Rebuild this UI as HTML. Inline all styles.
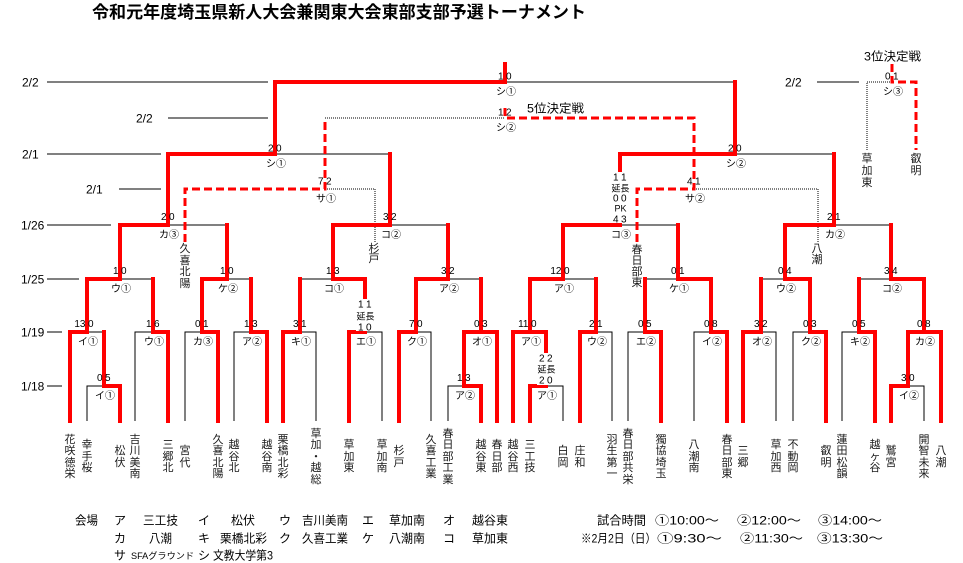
<!DOCTYPE html>
<html>
<head>
<meta charset="utf-8">
<style>
  html,body{margin:0;padding:0;background:#fff;}
  body{width:963px;height:563px;position:relative;overflow:hidden;
       font-family:"Liberation Sans","Noto Sans CJK JP",sans-serif;color:#111;}
  svg{position:absolute;left:0;top:0;}
  .v{position:absolute;width:14px;text-align:center;font-size:11px;line-height:11.5px;
     font-family:"Liberation Sans","Noto Sans CJK JP",sans-serif;color:#1a1a1a;}
</style>
</head>
<body>
<svg width="963" height="563" viewBox="0 0 963 563" xmlns="http://www.w3.org/2000/svg">
  <rect width="963" height="563" fill="#fff"/>
  <!-- black solid lines -->
  <g stroke="#000" stroke-width="1" fill="none" shape-rendering="crispEdges">
    <path d="M47,82H268 M168,118H268 M47,154H161 M119,189H161 M47,225H111 M47,279H79 M47,332H62 M47,386H62 M817,82H859"/>
    <path d="M505,82H735 M275,154H390 M735,154H834"/>
    <path d="M168,225H227 M390,225H448 M620,225H678 M834,225H891"/>
    <path d="M120,279H153 M227,279H251 M300,279H333 M448,279H481 M563,279H596 M645,279H678 M761,279H785 M859,279H891"/>
    <path d="M87,332H104 M135,421V332H153 M185,421V332H202 M234,421V332H251 M300,332H316V421 M365,332H382V421 M416,332H431V421 M596,332H612V421 M628,421V332H645 M694,421V332H711 M761,332H776V421 M793,421V332H810 M842,421V332H859"/>
    <path d="M87,421V386H104 M448,421V386H464 M546,386H563V421 M908,386H924V421"/>
  </g>
  <!-- black dotted -->
  <g stroke="#000" stroke-width="1" fill="none" stroke-dasharray="1 1" shape-rendering="crispEdges">
    <path d="M325,118H505 M325,189H375V242 M694,189H818V242 M867,150V82H892"/>
  </g>
  <!-- red solid -->
  <g stroke="#f00" stroke-width="4" fill="none" stroke-linejoin="miter" stroke-linecap="square">
    <path d="M505,64V82 M275,154V82H505 M735,82V154"/>
    <path d="M168,225V154H275 M390,154V225 M620,225V154H735 M834,154V225"/>
    <path d="M120,279V225H168 M227,225V279 M333,279V225H390 M448,225V279 M563,279V225H620 M678,225V279 M785,279V225H834 M891,225V279"/>
    <path d="M87,332V279H120 M153,279V332 M202,332V279H227 M251,279V332 M300,279V332 M333,279H365V332 M416,332V279H448 M481,279V332 M530,332V279H563 M596,279V332 M645,279V332 M678,279H711V332 M761,279V332 M785,279H810V332 M859,279V332 M891,279H924V332"/>
    <path d="M70,421V332H87 M104,332V386 M153,332H168V421 M202,332H218V421 M251,332H267V421 M283,421V332H300 M349,421V332H365 M399,421V332H416 M464,386V332H497V421 M513,421V332H546V386 M580,421V332H596 M645,332H661V421 M711,332H727V421 M743,421V332H761 M810,332H826V421 M859,332H875V421 M908,386V332H941V421"/>
    <path d="M104,386H120V421 M464,386H481V421 M530,421V386H546 M891,421V386H908"/>
  </g>
  <!-- red dashed -->
  <g stroke="#f00" stroke-width="3" fill="none" stroke-dasharray="8 4">
    <path d="M185,242V189H325V118"/>
    <path d="M637,242V189H694V118H505V108"/>
    <path d="M892,64V82H916V150"/>
  </g>

  <!-- white backgrounds for stacked scores -->
  <rect x="611" y="172" width="19" height="51" fill="#fff"/>
  <rect x="356" y="299" width="19" height="32" fill="#fff"/>
  <rect x="537" y="353" width="19" height="32" fill="#fff"/>

  <g font-family="'Liberation Sans','Noto Sans CJK JP',sans-serif" fill="#000">
    <!-- title -->
    <text x="92" y="18" font-size="17" font-weight="bold" textLength="494" lengthAdjust="spacingAndGlyphs">令和元年度埼玉県新人大会兼関東大会東部支部予選トーナメント</text>
    <text x="527" y="112.5" font-size="12" textLength="57" lengthAdjust="spacingAndGlyphs">5位決定戦</text>
    <text x="864" y="60.5" font-size="12" textLength="57" lengthAdjust="spacingAndGlyphs">3位決定戦</text>

    <!-- date labels -->
    <g font-size="12">
      <text x="22" y="86.5">2/2</text>
      <text x="136" y="122.5">2/2</text>
      <text x="22" y="158.5">2/1</text>
      <text x="86" y="193.5">2/1</text>
      <text x="21" y="229.5">1/26</text>
      <text x="21" y="283.5">1/25</text>
      <text x="21" y="336.5">1/19</text>
      <text x="21" y="390.5">1/18</text>
      <text x="785" y="86.5">2/2</text>
    </g>

    <!-- scores: left digits -->
    <g font-size="10" text-anchor="end">
      <text x="503.5" y="79.5">1</text>
      <text x="890.5" y="79.5">0</text>
      <text x="503.5" y="115.5">1</text>
      <text x="273.5" y="151.5">2</text>
      <text x="733.5" y="151.5">2</text>
      <text x="323.5" y="184.5">7</text>
      <text x="692.5" y="184.5">4</text>
      <text x="166.5" y="220">2</text>
      <text x="388.5" y="220">3</text>
      <text x="618.5" y="222.5">4</text>
      <text x="618.5" y="180.5">1</text>
      <text x="618.5" y="201.5">0</text>
      <text x="832.5" y="220">2</text>
      <text x="118.5" y="274">1</text>
      <text x="225.5" y="274">1</text>
      <text x="331.5" y="274">1</text>
      <text x="446.5" y="274">3</text>
      <text x="561.5" y="274">12</text>
      <text x="676.5" y="274">0</text>
      <text x="783.5" y="274">0</text>
      <text x="889.5" y="274">3</text>
      <text x="85.5" y="327">13</text>
      <text x="151.5" y="327">1</text>
      <text x="200.5" y="327">0</text>
      <text x="249.5" y="327">1</text>
      <text x="298.5" y="327">3</text>
      <text x="363.5" y="330.5">1</text>
      <text x="363.5" y="307.5">1</text>
      <text x="414.5" y="327">7</text>
      <text x="479.5" y="327">0</text>
      <text x="528.5" y="327">11</text>
      <text x="594.5" y="327">2</text>
      <text x="643.5" y="327">0</text>
      <text x="709.5" y="327">0</text>
      <text x="759.5" y="327">3</text>
      <text x="808.5" y="327">0</text>
      <text x="857.5" y="327">0</text>
      <text x="922.5" y="327">0</text>
      <text x="102.5" y="381">0</text>
      <text x="462.5" y="381">1</text>
      <text x="544.5" y="383.5">2</text>
      <text x="544.5" y="361.5">2</text>
      <text x="906.5" y="381">3</text>
    </g>
    <!-- scores: right digits -->
    <g font-size="10">
      <text x="506" y="79.5">0</text>
      <text x="893" y="79.5">1</text>
      <text x="506" y="115.5">2</text>
      <text x="276" y="151.5">0</text>
      <text x="736" y="151.5">0</text>
      <text x="326" y="184.5">2</text>
      <text x="695" y="184.5">1</text>
      <text x="169" y="220">0</text>
      <text x="391" y="220">2</text>
      <text x="621" y="222.5">3</text>
      <text x="621" y="180.5">1</text>
      <text x="621" y="201.5">0</text>
      <text x="835" y="220">1</text>
      <text x="121" y="274">0</text>
      <text x="228" y="274">0</text>
      <text x="334" y="274">3</text>
      <text x="449" y="274">2</text>
      <text x="564" y="274">0</text>
      <text x="679" y="274">1</text>
      <text x="786" y="274">4</text>
      <text x="892" y="274">4</text>
      <text x="88" y="327">0</text>
      <text x="154" y="327">6</text>
      <text x="203" y="327">1</text>
      <text x="252" y="327">3</text>
      <text x="301" y="327">1</text>
      <text x="366" y="330.5">0</text>
      <text x="366" y="307.5">1</text>
      <text x="417" y="327">0</text>
      <text x="482" y="327">3</text>
      <text x="531" y="327">0</text>
      <text x="597" y="327">1</text>
      <text x="646" y="327">5</text>
      <text x="712" y="327">8</text>
      <text x="762" y="327">2</text>
      <text x="811" y="327">3</text>
      <text x="860" y="327">5</text>
      <text x="925" y="327">8</text>
      <text x="105" y="381">5</text>
      <text x="465" y="381">3</text>
      <text x="547" y="383.5">0</text>
      <text x="547" y="361.5">2</text>
      <text x="909" y="381">0</text>
    </g>
    <!-- stack words -->
    <g font-size="9" text-anchor="middle">
      <text x="620.5" y="191.5">延長</text>
      <text x="620.5" y="211.5">PK</text>
      <text x="365.5" y="319.5">延長</text>
      <text x="546.5" y="372.5">延長</text>
    </g>

    <!-- winner labels -->
    <g font-size="10" text-anchor="middle">
      <text x="506" y="94.8">シ①</text>
      <text x="893" y="94.8">シ③</text>
      <text x="506" y="130.8">シ②</text>
      <text x="276" y="166.8">シ①</text>
      <text x="736" y="166.8">シ②</text>
      <text x="326" y="201.8">サ①</text>
      <text x="695" y="201.8">サ②</text>
      <text x="169" y="237.8">カ③</text>
      <text x="391" y="237.8">コ②</text>
      <text x="621" y="237.8">コ③</text>
      <text x="835" y="237.8">カ②</text>
      <text x="121" y="291.8">ウ①</text>
      <text x="228" y="291.8">ケ②</text>
      <text x="334" y="291.8">コ①</text>
      <text x="449" y="291.8">ア②</text>
      <text x="564" y="291.8">ア①</text>
      <text x="679" y="291.8">ケ①</text>
      <text x="786" y="291.8">ウ②</text>
      <text x="892" y="291.8">コ②</text>
      <text x="88" y="344.8">イ①</text>
      <text x="154" y="344.8">ウ①</text>
      <text x="203" y="344.8">カ③</text>
      <text x="252" y="344.8">ア②</text>
      <text x="301" y="344.8">キ①</text>
      <text x="366" y="344.8">エ①</text>
      <text x="417" y="344.8">ク①</text>
      <text x="482" y="344.8">オ①</text>
      <text x="531" y="344.8">ア①</text>
      <text x="597" y="344.8">ウ②</text>
      <text x="646" y="344.8">エ②</text>
      <text x="712" y="344.8">イ②</text>
      <text x="762" y="344.8">オ②</text>
      <text x="811" y="344.8">ク②</text>
      <text x="860" y="344.8">キ②</text>
      <text x="925" y="344.8">カ②</text>
      <text x="105" y="398.8">イ①</text>
      <text x="465" y="398.8">ア②</text>
      <text x="547" y="398.8">ア①</text>
      <text x="909" y="398.8">イ②</text>
    </g>

    <!-- legend -->
    <g font-size="12">
      <text x="75" y="524.5" textLength="23" lengthAdjust="spacingAndGlyphs">会場</text>
      <text x="114" y="524.5">ア</text>
      <text x="143" y="524.5" textLength="35" lengthAdjust="spacingAndGlyphs">三工技</text>
      <text x="198" y="524.5">イ</text>
      <text x="231" y="524.5" textLength="24" lengthAdjust="spacingAndGlyphs">松伏</text>
      <text x="279" y="524.5">ウ</text>
      <text x="302" y="524.5" textLength="46" lengthAdjust="spacingAndGlyphs">吉川美南</text>
      <text x="362" y="524.5">エ</text>
      <text x="389" y="524.5" textLength="36" lengthAdjust="spacingAndGlyphs">草加南</text>
      <text x="443" y="524.5">オ</text>
      <text x="472" y="524.5" textLength="36" lengthAdjust="spacingAndGlyphs">越谷東</text>

      <text x="114" y="542.5">カ</text>
      <text x="149" y="542.5" textLength="23" lengthAdjust="spacingAndGlyphs">八潮</text>
      <text x="198" y="542.5">キ</text>
      <text x="220" y="542.5" textLength="47" lengthAdjust="spacingAndGlyphs">栗橋北彩</text>
      <text x="279" y="542.5">ク</text>
      <text x="302" y="542.5" textLength="46" lengthAdjust="spacingAndGlyphs">久喜工業</text>
      <text x="362" y="542.5">ケ</text>
      <text x="389" y="542.5" textLength="36" lengthAdjust="spacingAndGlyphs">八潮南</text>
      <text x="443" y="542.5">コ</text>
      <text x="472" y="542.5" textLength="36" lengthAdjust="spacingAndGlyphs">草加東</text>

      <text x="114" y="559.5">サ</text>
      <text x="131" y="559" font-size="9" textLength="63" lengthAdjust="spacingAndGlyphs">SFAグラウンド</text>
      <text x="198" y="559.5">シ</text>
      <text x="213" y="559.5" textLength="60" lengthAdjust="spacingAndGlyphs">文教大学第3</text>

      <text x="597" y="524.5" textLength="49" lengthAdjust="spacingAndGlyphs">試合時間</text>
      <text x="655" y="524.5" textLength="64" lengthAdjust="spacingAndGlyphs">①10:00～</text>
      <text x="737" y="524.5" textLength="64" lengthAdjust="spacingAndGlyphs">②12:00～</text>
      <text x="818" y="524.5" textLength="64" lengthAdjust="spacingAndGlyphs">③14:00～</text>
      <text x="581" y="542.5" textLength="75" lengthAdjust="spacingAndGlyphs">※2月2日（日）</text>
      <text x="657" y="542.5" textLength="65" lengthAdjust="spacingAndGlyphs">①9:30～</text>
      <text x="740" y="542.5" textLength="63" lengthAdjust="spacingAndGlyphs">②11:30～</text>
      <text x="817" y="542.5" textLength="66" lengthAdjust="spacingAndGlyphs">③13:30～</text>
    </g>
  </g>
</svg>

<!-- annotation vertical texts -->
<div class="v" style="left:178px;top:244px;line-height:11.5px;">久<br>喜<br>北<br>陽</div>
<div class="v" style="left:367px;top:244px;line-height:10px;">杉<br>戸</div>
<div class="v" style="left:630px;top:244.5px;line-height:11px;">春<br>日<br>部<br>東</div>
<div class="v" style="left:810px;top:244px;line-height:10.5px;">八<br>潮</div>
<div class="v" style="left:860px;top:153px;line-height:12px;">草<br>加<br>東</div>
<div class="v" style="left:909px;top:153px;line-height:12px;">叡<br>明</div>

<!-- team names -->
<div class="v" style="left:63px;top:434.5px;">花<br>咲<br>徳<br>栄</div>
<div class="v" style="left:80px;top:440.25px;">幸<br>手<br>桜</div>
<div class="v" style="left:113px;top:446px;">松<br>伏</div>
<div class="v" style="left:128px;top:434.5px;">吉<br>川<br>美<br>南</div>
<div class="v" style="left:161px;top:440.25px;">三<br>郷<br>北</div>
<div class="v" style="left:178px;top:446px;">宮<br>代</div>
<div class="v" style="left:211px;top:434.5px;">久<br>喜<br>北<br>陽</div>
<div class="v" style="left:227px;top:440.25px;">越<br>谷<br>北</div>
<div class="v" style="left:260px;top:440.25px;">越<br>谷<br>南</div>
<div class="v" style="left:276px;top:434.5px;">栗<br>橋<br>北<br>彩</div>
<div class="v" style="left:309px;top:428.75px;">草<br>加<br>・<br>越<br>総</div>
<div class="v" style="left:342px;top:440.25px;">草<br>加<br>東</div>
<div class="v" style="left:375px;top:440.25px;">草<br>加<br>南</div>
<div class="v" style="left:392px;top:446px;">杉<br>戸</div>
<div class="v" style="left:424px;top:434.5px;">久<br>喜<br>工<br>業</div>
<div class="v" style="left:441px;top:428.75px;">春<br>日<br>部<br>工<br>業</div>
<div class="v" style="left:474px;top:440.25px;">越<br>谷<br>東</div>
<div class="v" style="left:490px;top:440.25px;">春<br>日<br>部</div>
<div class="v" style="left:506px;top:440.25px;">越<br>谷<br>西</div>
<div class="v" style="left:523px;top:440.25px;">三<br>工<br>技</div>
<div class="v" style="left:556px;top:446px;">白<br>岡</div>
<div class="v" style="left:573px;top:446px;">庄<br>和</div>
<div class="v" style="left:605px;top:434.5px;">羽<br>生<br>第<br>一</div>
<div class="v" style="left:621px;top:428.75px;">春<br>日<br>部<br>共<br>栄</div>
<div class="v" style="left:654px;top:434.5px;">獨<br>協<br>埼<br>玉</div>
<div class="v" style="left:687px;top:440.25px;">八<br>潮<br>南</div>
<div class="v" style="left:720px;top:434.5px;">春<br>日<br>部<br>東</div>
<div class="v" style="left:736px;top:446px;">三<br>郷</div>
<div class="v" style="left:769px;top:440.25px;">草<br>加<br>西</div>
<div class="v" style="left:786px;top:440.25px;">不<br>動<br>岡</div>
<div class="v" style="left:819px;top:446px;">叡<br>明</div>
<div class="v" style="left:835px;top:434.5px;">蓮<br>田<br>松<br>韻</div>
<div class="v" style="left:868px;top:440.25px;">越<br>ヶ<br>谷</div>
<div class="v" style="left:884px;top:446px;">鷲<br>宮</div>
<div class="v" style="left:917px;top:434.5px;">開<br>智<br>未<br>来</div>
<div class="v" style="left:934px;top:446px;">八<br>潮</div>
</body>
</html>
